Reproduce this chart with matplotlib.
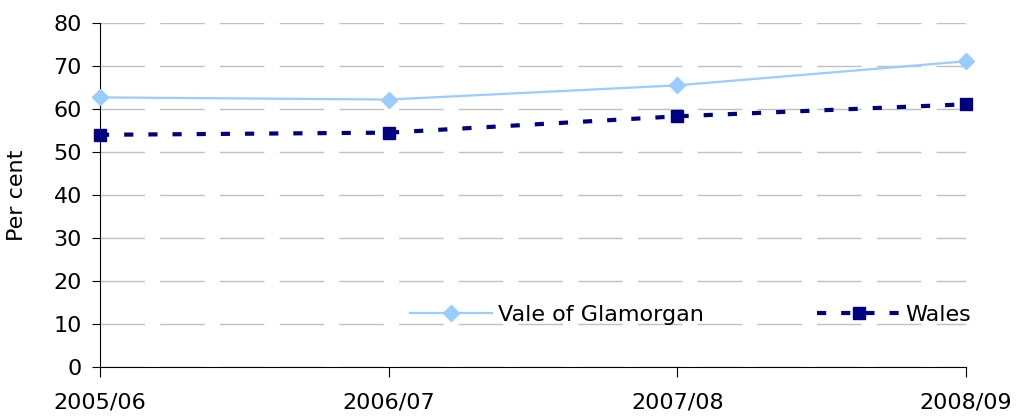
import matplotlib.pyplot as plt

# data
years = ['2005/06', '2006/07', '2007/08', '2008/09']
vale = [62.7, 62.2, 65.5, 71.1]
wales = [54.0, 54.5, 58.3, 61.1]

fig = plt.figure(figsize=(10.21, 4.17), dpi=100)
ax = fig.add_axes([100 / 1021, 50 / 417, 866 / 1021, 344 / 417])

x = range(len(years))
ax.plot(x, vale, color='#99ccff', lw=1.6, marker='D', ms=8,
        label='Vale of Glamorgan', clip_on=False, zorder=3)
ax.plot(x, wales, color='#000080', lw=3, marker='s', ms=9,
        dashes=(2.2, 3.6), label='Wales', clip_on=False, zorder=3)

ax.set_xlim(0, len(years) - 1)
ax.set_ylim(0, 80)
ax.set_yticks(range(0, 81, 10))
ax.set_xticks(list(x))
ax.set_xticklabels(years)
ax.yaxis.grid(True, color='#c0c0c0', lw=1, dashes=(32, 11))
ax.set_axisbelow(True)

for s in ['top', 'right']:
    ax.spines[s].set_visible(False)
ax.tick_params(direction='out', length=6, labelsize=16, pad=7)
ax.tick_params(axis='x', length=7, pad=11)
ax.set_ylabel('Per cent', fontsize=16, labelpad=19)

ax.legend(loc='center left', bbox_to_anchor=(310 / 866, 0.151), ncol=2,
          frameon=False, fontsize=16, handlelength=3.7, columnspacing=5.1,
          handletextpad=0.27, borderpad=0, borderaxespad=0)

fig.savefig('out.png', dpi=100)
